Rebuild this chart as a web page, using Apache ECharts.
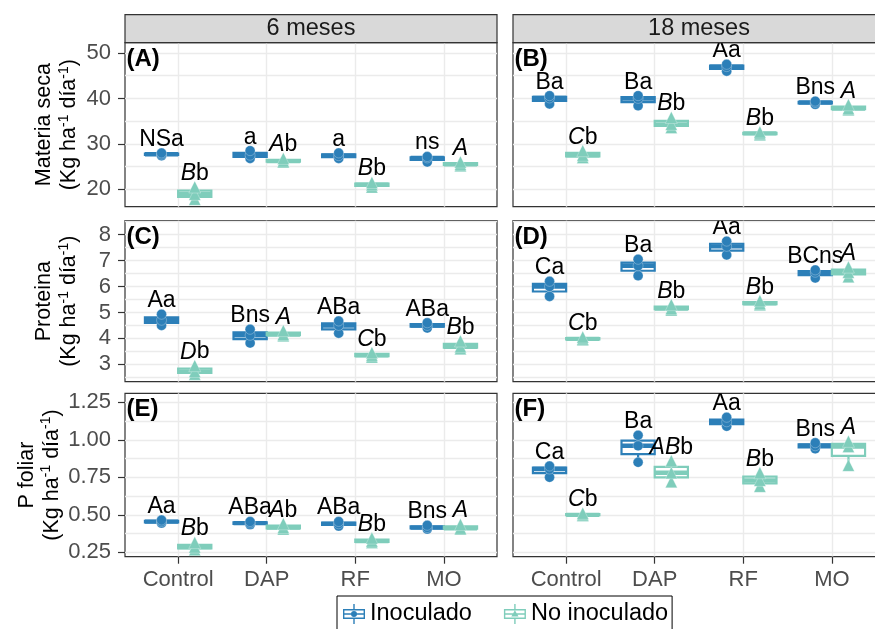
<!DOCTYPE html>
<html>
<head>
<meta charset="utf-8">
<script src="https://cdn.jsdelivr.net/npm/echarts@6/dist/echarts.min.js"></script>
<style>
html, body { margin: 0; padding: 0; background: #ffffff; }
#chart { width: 875px; height: 629px; }
</style>
</head>
<body>
<div id="chart"></div>
<script>
// ---- data -------------------------------------------------------------
const categories = ['Control', 'DAP', 'RF', 'MO'];
const periods = ['6 meses', '18 meses'];
const groups = ['Inoculado', 'No inoculado'];
const variables = ['Materia seca', 'Proteina', 'P foliar'];
const panelTags = ['(A)', '(B)', '(C)', '(D)', '(E)', '(F)'];

// replicate values (three per treatment), one array per category
const ms6Inoc   = [[27.4, 27.7, 28.0], [26.8, 27.5, 28.5], [26.8, 27.4, 28.0], [26.0, 26.9, 27.2]];
const ms6NoInoc = [[17.8, 18.9, 20.5], [26.0, 26.2, 26.8], [20.5, 21.0, 21.5], [25.2, 25.5, 26.0]];
const ms18Inoc   = [[38.8, 40.1, 40.6], [38.4, 40.0, 40.6], [46.0, 47.0, 47.5], [38.7, 39.1, 39.4]];
const ms18NoInoc = [[27.0, 27.5, 28.5], [33.6, 34.3, 35.8], [32.0, 32.3, 32.6], [37.5, 37.8, 38.6]];

const pr6Inoc   = [[4.50, 4.70, 4.93], [3.82, 4.12, 4.35], [4.20, 4.50, 4.67], [4.40, 4.50, 4.60]];
const pr6NoInoc = [[2.62, 2.72, 2.95], [4.10, 4.15, 4.30], [3.28, 3.35, 3.45], [3.60, 3.68, 3.90]];
const pr18Inoc   = [[5.62, 6.00, 6.20], [6.42, 6.80, 7.05], [7.22, 7.55, 7.75], [6.33, 6.55, 6.64]];
const pr18NoInoc = [[3.95, 3.98, 4.05], [5.10, 5.15, 5.30], [5.30, 5.35, 5.45], [6.38, 6.55, 6.75]];

const pf6Inoc   = [[0.445, 0.455, 0.465], [0.435, 0.445, 0.455], [0.425, 0.440, 0.455], [0.405, 0.415, 0.430]];
const pf6NoInoc = [[0.268, 0.285, 0.315], [0.405, 0.415, 0.440], [0.315, 0.325, 0.345], [0.405, 0.410, 0.435]];
const pf18Inoc   = [[0.750, 0.805, 0.825], [0.850, 0.960, 1.030], [1.090, 1.120, 1.150], [0.940, 0.960, 0.980]];
const pf18NoInoc = [[0.495, 0.500, 0.510], [0.720, 0.780, 0.860], [0.690, 0.730, 0.780], [0.830, 0.955, 0.990]];

// significance letters; for non-inoculated plants: [italic part, plain part]
const ms6LetInoc = ['NSa', 'a', 'a', 'ns'];
const ms6LetNo   = [['B', 'b'], ['A', 'b'], ['B', 'b'], ['A', '']];
const ms18LetInoc = ['Ba', 'Ba', 'Aa', 'Bns'];
const ms18LetNo   = [['C', 'b'], ['B', 'b'], ['B', 'b'], ['A', '']];
const pr6LetInoc = ['Aa', 'Bns', 'ABa', 'ABa'];
const pr6LetNo   = [['D', 'b'], ['A', ''], ['C', 'b'], ['B', 'b']];
const pr18LetInoc = ['Ca', 'Ba', 'Aa', 'BCns'];
const pr18LetNo   = [['C', 'b'], ['B', 'b'], ['B', 'b'], ['A', '']];
const pf6LetInoc = ['Aa', 'ABa', 'ABa', 'Bns'];
const pf6LetNo   = [['B', 'b'], ['A', 'b'], ['B', 'b'], ['A', '']];
const pf18LetInoc = ['Ca', 'Ba', 'Aa', 'Bns'];
const pf18LetNo   = [['C', 'b'], ['AB', 'b'], ['B', 'b'], ['A', '']];

// y tick marks per row
const msTicks = [20, 30, 40, 50];
const prTicks = [3, 4, 5, 6, 7, 8];
const pfTicks = [0.25, 0.50, 0.75, 1.00, 1.25];

// ---- layout & style -----------------------------------------------------
const FONT = 'Liberation Sans, Arial, Helvetica, sans-serif';
const COLORS = ['#2c7fb8', '#7fcdbb'];
const SYMBOLS = ['circle', 'triangle'];
const SYMBOL_SIZE = [10, 12];
const COL_LEFT = [125, 513];
const COL_W = 372;
const ROW_TOP = [42.7, 220.7, 393.3];
const ROW_H = [164, 161, 163.4];
const STRIP_TOP = 14.7, STRIP_H = 28;
const DODGE = 0.1875;       // half of the dodge width (0.75 / 4)
const BOX_W = 0.375;        // box width in category units
const LW = 2.2;             // box line width
const GRID_COLOR = '#ebebeb';
const TICK_COLOR = '#333333';
const LABEL_COLOR = '#4d4d4d';

const ROWS = [
  { title: variables[0], ticks: msTicks, min: 16.17, max: 52.27, fmt: v => String(v) },
  { title: variables[1], ticks: prTicks, min: 2.33,  max: 8.54,  fmt: v => String(v) },
  { title: variables[2], ticks: pfTicks, min: 0.221, max: 1.31,  fmt: v => v.toFixed(2) }
];

const PANELS = [
  { row: 0, col: 0, vals: [ms6Inoc, ms6NoInoc],   lets: [ms6LetInoc, ms6LetNo] },
  { row: 0, col: 1, vals: [ms18Inoc, ms18NoInoc], lets: [ms18LetInoc, ms18LetNo] },
  { row: 1, col: 0, vals: [pr6Inoc, pr6NoInoc],   lets: [pr6LetInoc, pr6LetNo] },
  { row: 1, col: 1, vals: [pr18Inoc, pr18NoInoc], lets: [pr18LetInoc, pr18LetNo] },
  { row: 2, col: 0, vals: [pf6Inoc, pf6NoInoc],   lets: [pf6LetInoc, pf6LetNo] },
  { row: 2, col: 1, vals: [pf18Inoc, pf18NoInoc], lets: [pf18LetInoc, pf18LetNo] }
];

// type-7 quantile on a sorted sample
function quantile(sorted, p) {
  const h = (sorted.length - 1) * p;
  const lo = Math.floor(h);
  const hi = Math.min(lo + 1, sorted.length - 1);
  return sorted[lo] + (h - lo) * (sorted[hi] - sorted[lo]);
}
// five-number summary with 1.5 IQR whiskers
function boxStats(sample) {
  const s = sample.slice().sort((a, b) => a - b);
  const q1 = quantile(s, 0.25), md = quantile(s, 0.5), q3 = quantile(s, 0.75);
  const iqr = q3 - q1;
  const low = Math.min(...s.filter(v => v >= q1 - 1.5 * iqr));
  const high = Math.max(...s.filter(v => v <= q3 + 1.5 * iqr));
  return [low, q1, md, q3, high];
}
// major breaks plus the half-way minor breaks inside the range
function gridValues(ticks, min, max) {
  const step = ticks[1] - ticks[0];
  const out = [];
  for (let k = -2; k <= 2 * (ticks.length - 1) + 2; k++) {
    const v = Math.round((ticks[0] + k * step / 2) * 1e6) / 1e6;
    if (v > min && v < max) out.push(v);
  }
  return out;
}

function letterText(g, item) {
  if (g === 0) return item;
  return '{i|' + item[0] + '}' + item[1];
}

const grids = [], xAxes = [], yAxes = [], series = [];

PANELS.forEach((p, i) => {
  const row = ROWS[p.row];
  grids.push({
    left: COL_LEFT[p.col], top: ROW_TOP[p.row], width: COL_W, height: ROW_H[p.row],
    containLabel: false, outerBoundsMode: 'none',
    show: true, borderColor: '#333333', borderWidth: 1.2, backgroundColor: '#ffffff'
  });
  const bottomRow = p.row === 2;
  xAxes.push({
    gridIndex: i, type: 'value', min: 0.4, max: 4.6,
    axisLine: { show: false },
    axisTick: { show: bottomRow, customValues: [1, 2, 3, 4], length: 7, lineStyle: { color: TICK_COLOR, width: 1.2 } },
    axisLabel: {
      show: bottomRow, customValues: [1, 2, 3, 4], margin: 12,
      formatter: v => categories[Math.round(v) - 1],
      fontSize: 22, fontFamily: FONT, color: LABEL_COLOR
    },
    splitLine: { show: true, lineStyle: { color: GRID_COLOR, width: 1.4 } }
  });
  // axis carrying the background grid lines
  yAxes.push({
    gridIndex: i, type: 'value', min: row.min, max: row.max, position: 'left',
    axisLine: { show: false },
    axisTick: { show: false, customValues: gridValues(row.ticks, row.min, row.max) },
    axisLabel: { show: false },
    splitLine: { show: true, lineStyle: { color: GRID_COLOR, width: 1.4 } }
  });
  // axis carrying ticks, tick labels and the title
  const leftCol = p.col === 0;
  yAxes.push({
    gridIndex: i, type: 'value', min: row.min, max: row.max, position: 'left',
    axisLine: { show: false },
    axisTick: { show: leftCol, customValues: row.ticks, length: 7, lineStyle: { color: TICK_COLOR, width: 1.2 } },
    axisLabel: {
      show: leftCol, customValues: row.ticks, margin: 14, formatter: row.fmt,
      fontSize: 22, fontFamily: FONT, color: LABEL_COLOR
    },
    splitLine: { show: false },
    name: leftCol ? row.title + '\n(Kg ha{s|-1} día{s|-1})' : '',
    nameLocation: 'middle', nameRotate: 90, nameGap: 43,
    nameTextStyle: {
      fontSize: 21.5, fontFamily: FONT, color: '#000000', lineHeight: 25, align: 'center',
      rich: { s: { fontSize: 14, fontFamily: FONT, color: '#000000', lineHeight: 15, verticalAlign: 'top' } }
    }
  });

  [0, 1].forEach(g => {
    const off = g === 0 ? -DODGE : DODGE;
    const boxData = p.vals[g].map((sample, c) => [c + 1 + off].concat(boxStats(sample)));
    const letters = p.lets[g];
    const color = COLORS[g];
    series.push({
      type: 'custom', name: groups[g], xAxisIndex: i, yAxisIndex: 2 * i,
      z: 2, clip: true, silent: true,
      itemStyle: { color: color },
      encode: { x: 0, y: [1, 2, 3, 4, 5] },
      data: boxData,
      renderItem: (params, api) => {
        const x = api.value(0);
        const lo = api.coord([x, api.value(1)]);
        const q1 = api.coord([x, api.value(2)]);
        const md = api.coord([x, api.value(3)]);
        const q3 = api.coord([x, api.value(4)]);
        const hi = api.coord([x, api.value(5)]);
        const w = api.size([BOX_W, 0])[0];
        const cx = lo[0];
        return {
          type: 'group',
          children: [
            { type: 'line', shape: { x1: cx, y1: lo[1], x2: cx, y2: q1[1] }, style: { stroke: color, lineWidth: LW } },
            { type: 'line', shape: { x1: cx, y1: q3[1], x2: cx, y2: hi[1] }, style: { stroke: color, lineWidth: LW } },
            { type: 'rect', shape: { x: cx - w / 2, y: q3[1], width: w, height: q1[1] - q3[1] },
              style: { fill: '#ffffff', stroke: color, lineWidth: LW } },
            { type: 'line', shape: { x1: cx - w / 2, y1: md[1], x2: cx + w / 2, y2: md[1] },
              style: { stroke: color, lineWidth: LW * 2 } },
            { type: 'text', x: cx, y: hi[1] - 2,
              style: {
                text: letterText(g, letters[params.dataIndex]),
                fontSize: 23, fontFamily: FONT, fill: '#000000', lineHeight: 23,
                align: 'center', verticalAlign: 'bottom',
                rich: { i: { fontSize: 23, fontFamily: FONT, fontStyle: 'italic', fill: '#000000', lineHeight: 23 } }
              } }
          ]
        };
      }
    });
    const pts = [];
    p.vals[g].forEach((sample, c) => sample.forEach(v => pts.push([c + 1 + off, v])));
    series.push({
      type: 'scatter', name: groups[g], xAxisIndex: i, yAxisIndex: 2 * i,
      z: 3, silent: true,
      symbol: SYMBOLS[g], symbolSize: SYMBOL_SIZE[g],
      itemStyle: { color: color, borderColor: 'rgba(255,255,255,0.7)', borderWidth: 0.4, opacity: 1 },
      data: pts
    });
  });
});

// facet strips and panel tags
const graphics = [];
periods.forEach((label, c) => {
  graphics.push({
    type: 'rect', silent: true, z: 10,
    shape: { x: COL_LEFT[c], y: STRIP_TOP, width: COL_W, height: STRIP_H },
    style: { fill: '#d9d9d9', stroke: '#333333', lineWidth: 1.2 }
  });
  graphics.push({
    type: 'text', silent: true, z: 11,
    x: COL_LEFT[c] + COL_W / 2, y: STRIP_TOP + STRIP_H / 2,
    style: { text: label, fontSize: 23.5, fontFamily: FONT, fill: '#1a1a1a', align: 'center', verticalAlign: 'middle' }
  });
});
PANELS.forEach((p, i) => {
  graphics.push({
    type: 'text', silent: true, z: 11,
    x: COL_LEFT[p.col] + 1.5, y: ROW_TOP[p.row] + 4.5,
    style: { text: panelTags[i], fontSize: 24, fontWeight: 'bold', fontFamily: FONT, fill: '#000000', align: 'left', verticalAlign: 'top' }
  });
});

// legend keys shaped like a small box plot
const KEY_BOX = 'M10.3 0h1.4v5h-1.4Z M10.3 15h1.4v5h-1.4Z M0 5h22v1.4h-22Z M0 13.6h22v1.4h-22Z ' +
                'M0 5h1.4v10h-1.4Z M20.6 5h1.4v10h-1.4Z M0 9.3h22v1.4h-22Z ';
const KEY_IN = 'path://' + KEY_BOX + 'M14 10A3 3 0 1 1 8 10A3 3 0 1 1 14 10Z';
const KEY_NO = 'path://' + KEY_BOX + 'M11 6.2L14.6 12.6L7.4 12.6Z';

const chart = echarts.init(document.getElementById('chart'), null, { renderer: 'canvas' });
chart.setOption({
  animation: false,
  backgroundColor: '#ffffff',
  textStyle: { fontFamily: FONT },
  grid: grids,
  xAxis: xAxes,
  yAxis: yAxes,
  series: series,
  graphic: graphics,
  legend: {
    data: [{ name: groups[0], icon: KEY_IN }, { name: groups[1], icon: KEY_NO }],
    left: 337, top: 596, orient: 'horizontal',
    itemWidth: 22, itemHeight: 20, itemGap: 32,
    padding: [6, 4, 6, 6],
    borderColor: '#000000', borderWidth: 1,
    selectedMode: false,
    itemStyle: { borderWidth: 0 },
    textStyle: { fontSize: 23.5, fontFamily: FONT, color: '#000000' }
  }
});
</script>
</body>
</html>
